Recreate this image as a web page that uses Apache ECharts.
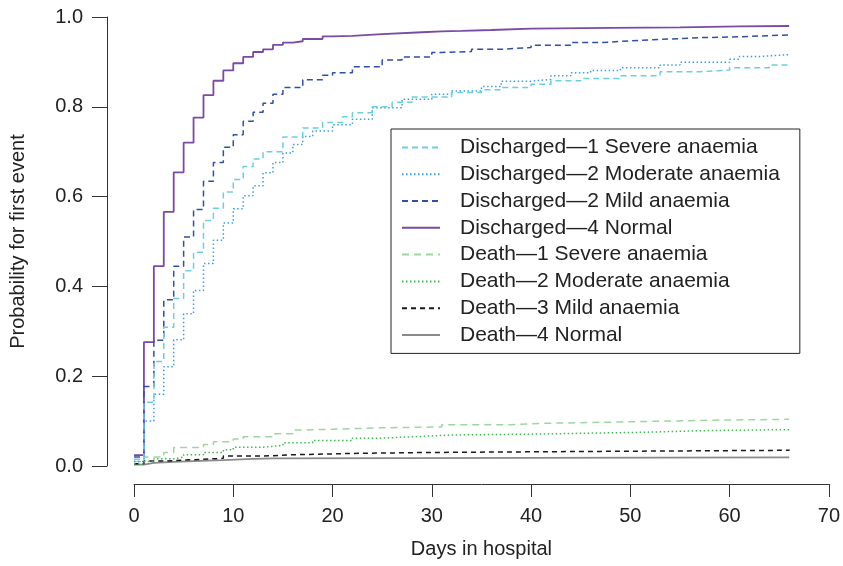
<!DOCTYPE html>
<html>
<head>
<meta charset="utf-8">
<script src="https://cdn.jsdelivr.net/npm/echarts@6/dist/echarts.min.js"></script>
<style>
html,body{margin:0;padding:0;background:#fff;}
#chart{width:843px;height:566px;}
</style>
</head>
<body>
<div id="chart"></div>
<script>
// ---- data (day, cumulative probability) ----
const seriesNames = [
  "Discharged\u20141 Severe anaemia",
  "Discharged\u20142 Moderate anaemia",
  "Discharged\u20142 Mild anaemia",
  "Discharged\u20144 Normal",
  "Death\u20141 Severe anaemia",
  "Death\u20142 Moderate anaemia",
  "Death\u20143 Mild anaemia",
  "Death\u20144 Normal"
];
const xTicks = [0, 10, 20, 30, 40, 50, 60, 70];
const yTicks = [0.0, 0.2, 0.4, 0.6, 0.8, 1.0];

const dischargedSevere = [[0,0.015],[1,0.142],[2,0.233],[3,0.309],[4,0.373],[5,0.435],[6,0.476],[7,0.547],[8,0.574],[9,0.61],[10,0.638],[11,0.667],[12,0.684],[13,0.70],[15,0.733],[17,0.753],[19,0.765],[21,0.778],[22,0.787],[24,0.80],[26,0.81],[28,0.822],[32,0.832],[35,0.838],[37,0.843],[40,0.85],[42,0.858],[45,0.863],[49,0.869],[53,0.878],[57,0.882],[60,0.887],[64,0.893],[66,0.893]];
const dischargedModerate = [[0,0.01],[1,0.10],[2,0.16],[3,0.221],[4,0.281],[5,0.339],[6,0.391],[7,0.451],[8,0.503],[9,0.541],[10,0.573],[11,0.602],[12,0.624],[13,0.653],[14,0.676],[15,0.697],[16,0.716],[17,0.734],[18,0.746],[20,0.76],[22,0.772],[24,0.798],[27,0.817],[30,0.828],[32,0.835],[35,0.845],[37,0.857],[40,0.861],[42,0.869],[44,0.876],[46,0.881],[49,0.887],[53,0.893],[55,0.899],[60,0.906],[61,0.912],[63,0.916],[66,0.916]];
const dischargedMild = [[0,0.02],[1,0.177],[2,0.28],[3,0.37],[4,0.445],[5,0.51],[6,0.571],[7,0.634],[8,0.676],[9,0.71],[10,0.738],[11,0.768],[12,0.788],[13,0.808],[14,0.828],[15,0.843],[17,0.86],[19,0.87],[20,0.876],[22,0.889],[25,0.904],[27,0.911],[30,0.921],[31,0.923],[34,0.928],[37,0.932],[40,0.937],[44,0.943],[47,0.947],[50,0.951],[54,0.954],[57,0.956],[61,0.96],[66,0.963]];
const dischargedNormal = [[0,0.024],[1,0.276],[2,0.445],[3,0.566],[4,0.654],[5,0.72],[6,0.776],[7,0.826],[8,0.858],[9,0.881],[10,0.897],[11,0.911],[12,0.922],[13,0.928],[14,0.938],[15,0.943],[16,0.946],[17,0.951],[19,0.957],[20,0.958],[22,0.962],[25,0.966],[29,0.968],[31,0.969],[33,0.971],[36,0.974],[40,0.976],[48,0.977],[55,0.979],[61,0.98],[66,0.98]];
const deathSevere = [[0,0.01],[1,0.02],[3,0.03],[4,0.041],[7,0.048],[8,0.054],[10,0.06],[11,0.065],[14,0.072],[16,0.08],[17,0.082],[20,0.085],[25,0.087],[31,0.092],[38,0.095],[41,0.098],[49,0.102],[58,0.104],[66,0.104]];
const deathModerate = [[0,0.005],[1,0.01],[2,0.016],[4,0.02],[5,0.025],[7,0.03],[9,0.036],[10,0.042],[13,0.046],[15,0.052],[18,0.057],[22,0.062],[25,0.066],[29,0.069],[32,0.071],[40,0.075],[51,0.079],[58,0.081],[66,0.081]];
const deathMild = [[0,0.005],[1,0.011],[3,0.013],[5,0.017],[9,0.022],[13,0.025],[16,0.028],[22,0.03],[29,0.032],[43,0.035],[66,0.037]];
const deathNormal = [[0,0.003],[1,0.007],[2,0.009],[4,0.011],[6,0.013],[9,0.016],[12,0.017],[14,0.019],[66,0.019]];

const allData = [dischargedSevere, dischargedModerate, dischargedMild, dischargedNormal, deathSevere, deathModerate, deathMild, deathNormal];

// ---- styles ----
const styles = [
  {color:'#6ccfe0', width:1.5, type:[6,4]},
  {color:'#3a9fe0', width:1.5, type:[1.5,2.5]},
  {color:'#2f4fa8', width:1.5, type:[6,4]},
  {color:'#7a4aa6', width:1.8, type:'solid'},
  {color:'#9ed6a0', width:1.5, type:[7,5]},
  {color:'#3dbb4c', width:1.5, type:[1.5,2.5]},
  {color:'#1a1a1a', width:1.5, type:[5,4]},
  {color:'#8a8a8a', width:1.8, type:'solid'}
];

const font = 'Liberation Sans, Arial, sans-serif';
const chart = echarts.init(document.getElementById('chart'), null, {renderer:'canvas'});

const series = seriesNames.map((name, i) => ({
  name: name,
  type: 'line',
  step: 'end',
  symbol: 'none',
  data: allData[i],
  lineStyle: {color: styles[i].color, width: styles[i].width, type: styles[i].type},
  itemStyle: {color: styles[i].color},
  emphasis: {disabled: true},
  z: 10 - i
}));

chart.setOption({
  animation: false,
  backgroundColor: '#fff',
  grid: {left: 132, right: 14, top: 17, bottom: 100, containLabel: false},
  legend: {
    orient: 'vertical',
    left: 391, top: 129,
    data: seriesNames,
    backgroundColor: '#fff',
    borderColor: '#222', borderWidth: 1, borderRadius: 0,
    padding: [5, 20, 5, 10],
    itemWidth: 38, itemHeight: 14, itemGap: 0,
    selectedMode: false,
    itemStyle: {opacity: 0},
    textStyle: {fontFamily: font, fontSize: 21, color: '#222', lineHeight: 26.8, padding: [0,0,0,15]}
  },
  xAxis: {
    type: 'value', min: xTicks[0], max: xTicks[xTicks.length-1], interval: 10,
    offset: 18,
    name: 'Days in hospital', nameLocation: 'middle', nameGap: 55,
    nameTextStyle: {fontFamily: font, fontSize: 20, color: '#222'},
    axisLine: {show: true, onZero: false, lineStyle: {color: '#333', width: 1}},
    axisTick: {show: true, length: 13, lineStyle: {color: '#333', width: 1}},
    axisLabel: {fontFamily: font, fontSize: 20, color: '#222', margin: 22},
    splitLine: {show: false}
  },
  yAxis: {
    type: 'value', min: yTicks[0], max: yTicks[yTicks.length-1], interval: 0.2,
    offset: 27,
    name: 'Probability for first event', nameLocation: 'middle', nameGap: 79,
    nameTextStyle: {fontFamily: font, fontSize: 20, color: '#222'},
    axisLine: {show: true, onZero: false, lineStyle: {color: '#333', width: 1}},
    axisTick: {show: true, length: 15, lineStyle: {color: '#333', width: 1}},
    axisLabel: {fontFamily: font, fontSize: 20, color: '#222', margin: 24, formatter: v => v.toFixed(1)},
    splitLine: {show: false}
  },
  series: series
});
</script>
</body>
</html>
